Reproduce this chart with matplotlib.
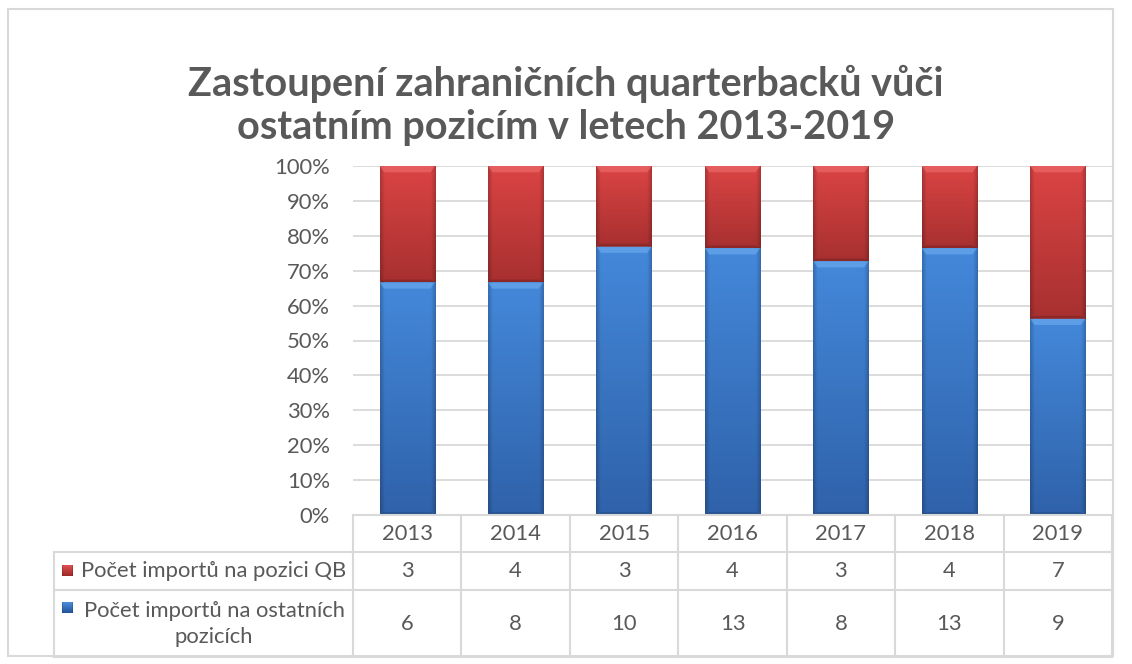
import numpy as np
import matplotlib
matplotlib.use("Agg")
import matplotlib.pyplot as plt
from matplotlib.patches import Rectangle

years = ["2013", "2014", "2015", "2016", "2017", "2018", "2019"]
qb_counts = [3, 4, 3, 4, 3, 4, 7]
other_counts = [6, 8, 10, 13, 8, 13, 9]
series_names = ["Počet importů na pozici QB", "Počet importů na ostatních\npozicích"]
title = "Zastoupení zahraničních quarterbacků vůči\nostatním pozicím v letech 2013-2019"
yticks = np.arange(0, 101, 10)

FONT = ["Lato", "DejaVu Sans"]
plt.rcParams["font.family"] = FONT
TXT = "#595959"
GRID = "#D9D9D9"
FS = 15.8

W, H = 1132, 664
fig = plt.figure(figsize=(W / 100, H / 100), dpi=100)
fig.patch.set_facecolor("white")

def fx(px):
    return px / W

def fy(py):
    return 1 - py / H

# main axes
ax_l, ax_r, ax_t, ax_b = 353, 1112, 166, 515
ax = fig.add_axes([fx(ax_l), fy(ax_b), fx(ax_r - ax_l), fy(ax_t) - fy(ax_b)])

qb = np.array(qb_counts, float)
ot = np.array(other_counts, float)
tot = qb + ot
ot_pct = ot / tot * 100
qb_pct = qb / tot * 100
x = np.arange(len(years))

for v in yticks:
    ax.axhline(v, color=GRID, lw=1.3, zorder=0)

bw = 0.51
bars_ot = ax.bar(x, ot_pct, width=bw, color="#3A78C8", zorder=2)
bars_qb = ax.bar(x, qb_pct, bottom=ot_pct, width=bw, color="#C83A3A", zorder=2)

def bevel_img(top, bottom, edge_dark, n=64):
    top = np.array(matplotlib.colors.to_rgb(top))
    bottom = np.array(matplotlib.colors.to_rgb(bottom))
    t = np.linspace(0, 1, n)[:, None]
    col = top * (1 - t) + bottom * t
    img = np.repeat(col[:, None, :], n, axis=1)
    s = np.linspace(0, 1, n)
    side = np.clip(np.minimum(s, 1 - s) / 0.08, 0, 1)
    fac = edge_dark + (1 - edge_dark) * side
    img = img * fac[None, :, None]
    return np.clip(img, 0, 1)

def decorate(bars, top, bottom, hl):
    for b in bars:
        x0, y0 = b.get_x(), b.get_y()
        w, h = b.get_width(), b.get_height()
        img = bevel_img(top, bottom, 0.8)
        im = ax.imshow(img, extent=[x0, x0 + w, y0, y0 + h], aspect="auto",
                       zorder=3, interpolation="bilinear")
        im.set_clip_path(b)
        hh = min(1.8, h * 0.3)
        ax.fill([x0, x0 + w, x0 + w - w * 0.08, x0 + w * 0.08],
                [y0 + h, y0 + h, y0 + h - hh, y0 + h - hh],
                color=hl, alpha=0.6, zorder=4, lw=0)
        ax.fill([x0, x0 + w, x0 + w - w * 0.08, x0 + w * 0.08],
                [y0, y0, y0 + 0.8, y0 + 0.8],
                color="black", alpha=0.15, zorder=4, lw=0)

decorate(bars_ot, "#4488DA", "#2F62AA", "#6FAEF0")
decorate(bars_qb, "#DB4444", "#A83030", "#EE7070")

ax.set_xlim(-0.5, len(years) - 0.5)
ax.set_ylim(0, 100)
ax.set_yticks(yticks)
ax.set_yticklabels([f"{v}%" for v in yticks], color=TXT, fontsize=FS)
ax.tick_params(axis="y", length=0, pad=16.5)
ax.set_xticks([])
for s in ax.spines.values():
    s.set_visible(False)
ax.set_facecolor("none")

ov = fig.add_axes([0, 0, 1, 1], zorder=-1)
ov.set_xlim(0, W)
ov.set_ylim(H, 0)
ov.axis("off")
ov.add_patch(Rectangle((8, 9), 1113 - 8, 656 - 9, fill=False, ec="#D9D9D9", lw=1.5))

fig.text(0.5, fy(105.5), title, ha="center", va="center", fontsize=28.5,
         fontweight="bold", color=TXT, linespacing=1.2, family=FONT)

tab = fig.add_axes([0, 0, 1, 1], zorder=5)
tab.axis("off")
lc = dict(color=GRID, lw=1.5)
col_w = (ax_r - ax_l) / len(years)
rows_y = [515, 552, 590, 657]
left_x = 54
tab.plot([ax_l, ax_r], [rows_y[0]] * 2, **lc)
for yy in rows_y[1:]:
    tab.plot([left_x, ax_r], [yy] * 2, **lc)
tab.plot([left_x, left_x], [rows_y[1], rows_y[3]], **lc)
for i in range(len(years) + 1):
    xx = ax_l + i * col_w
    tab.plot([xx, xx], [rows_y[0], rows_y[3]], **lc)

row_c = [(rows_y[k] + rows_y[k + 1]) / 2 for k in range(3)]
for i, yr in enumerate(years):
    cx = ax_l + (i + 0.5) * col_w
    tab.text(cx, row_c[0], yr, ha="center", va="center", fontsize=FS, color=TXT)
    tab.text(cx, row_c[1], str(qb_counts[i]), ha="center", va="center", fontsize=FS, color=TXT)
    tab.text(cx, row_c[2], str(other_counts[i]), ha="center", va="center", fontsize=FS, color=TXT)

def key(x0, yc, top, bottom):
    img = bevel_img(top, bottom, 0.8, n=16)
    tab.imshow(img, extent=[x0, x0 + 11, yc + 5.5, yc - 5.5], aspect="auto",
               zorder=6, interpolation="bilinear")

key(62, row_c[1], "#E05050", "#A02828")
tab.text(214, row_c[1], series_names[0], ha="center", va="center", fontsize=FS, color=TXT)
key(62, 608, "#4C8EDC", "#24549A")
tab.text(214, row_c[2] + 0.5, series_names[1], ha="center", va="center", fontsize=FS,
         color=TXT, linespacing=1.35, multialignment="center")

tab.set_xlim(0, W)
tab.set_ylim(H, 0)

fig.savefig("out.png", dpi=100, facecolor="white")
